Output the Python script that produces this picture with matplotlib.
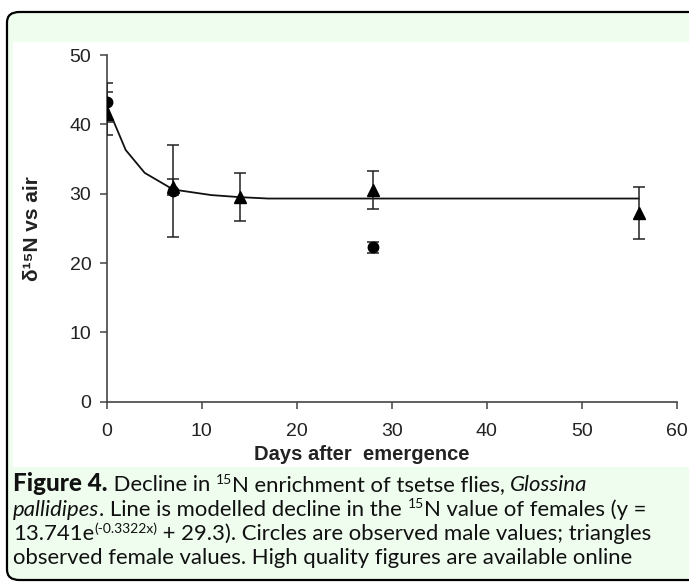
import matplotlib
matplotlib.use("Agg")
import matplotlib.pyplot as plt
from matplotlib.font_manager import FontProperties
from matplotlib.patches import FancyBboxPatch, Rectangle

# Data
male_days = [0, 7, 28]
male_d15n = [43.2, 30.4, 22.3]
male_err_low = [2.8, 6.7, 0.8]
male_err_high = [1.4, 6.6, 0.8]

female_days = [0, 7, 14, 28, 56]
female_d15n = [41.5, 30.9, 29.5, 30.5, 27.2]
female_err_low = [3.1, 1.1, 3.4, 2.7, 3.7]
female_err_high = [4.4, 1.2, 3.5, 2.7, 3.7]

# modelled female decline
model_days = [0, 2, 4, 7, 11, 14, 17, 28, 56]
model_d15n = [42.8, 36.3, 33.0, 30.6, 29.8, 29.5, 29.3, 29.3, 29.3]

x_ticks = [0, 10, 20, 30, 40, 50, 60]
y_ticks = [0, 10, 20, 30, 40, 50]

# caption runs: (text, style) -- b bold, i italic, n normal, s superscript
caption = [
    [("Figure 4.", "b"), (" Decline in ", "n"), ("15", "s"),
     ("N enrichment of tsetse flies, ", "n"), ("Glossina", "i")],
    [("pallidipes", "i"), (". Line is modelled decline in the ", "n"), ("15", "s"),
     ("N value of females (y =", "n")],
    [("13.741e", "n"), ("(-0.3322x)", "s"),
     (" + 29.3). Circles are observed male values; triangles", "n")],
    [("observed female values. High quality figures are available online", "n")],
]
cap_base = [491, 515.5, 540, 564.5]

W, H = 689, 582
fig = plt.figure(figsize=(W / 100, H / 100), dpi=100)
fig.patch.set_facecolor("white")

green = "#effdef"
# outer rounded box (runs off the right edge)
box = FancyBboxPatch((7 / W, 2 / H), 720 / W, 568 / H,
                     boxstyle="round,pad=0,rounding_size=0.018",
                     transform=fig.transFigure, facecolor=green,
                     edgecolor="black", linewidth=1.6, zorder=-2)
fig.patches.append(box)
# white panel holding the chart
panel = Rectangle((13 / W, (H - 467) / H), (W - 13) / W, (467 - 42) / H,
                  transform=fig.transFigure, facecolor="white",
                  edgecolor="none", zorder=-1)
fig.patches.append(panel)

ax = fig.add_axes([106.7 / W, (H - 401.7) / H, 570 / W, 346.7 / H])
ax.set_facecolor("none")
ax.set_zorder(1)

ax.plot(model_days, model_d15n, color="#111111", linewidth=1.3, zorder=2)
ax.errorbar(male_days, male_d15n, yerr=[male_err_low, male_err_high],
            fmt="o", color="black", markersize=7.5, ecolor="#222222",
            elinewidth=1.1, capsize=4.5, capthick=1.1, zorder=3)
ax.errorbar(female_days, female_d15n, yerr=[female_err_low, female_err_high],
            fmt="^", color="black", markersize=8, ecolor="#222222",
            elinewidth=1.1, capsize=4.5, capthick=1.1, zorder=3)

ax.set_xlim(0, 60)
ax.set_ylim(0, 50)
ax.set_xticks(x_ticks)
ax.set_yticks(y_ticks)
for s in ["top", "right"]:
    ax.spines[s].set_visible(False)
for s in ["left", "bottom"]:
    ax.spines[s].set_color("#444444")
    ax.spines[s].set_linewidth(1.2)
ax.tick_params(direction="out", length=5, width=1.1, color="#444444",
               labelsize=14, labelcolor="#222222")
ax.tick_params(axis="x", pad=10)
ax.tick_params(axis="y", pad=6)
for lab in ax.get_xticklabels() + ax.get_yticklabels():
    lab.set_family("Liberation Sans")

ax.set_xlabel("Days after  emergence", fontsize=14.5, fontweight="bold",
              family="Liberation Sans", color="#222222")
ax.xaxis.set_label_coords(0.448, -0.125)
ax.set_ylabel("δ¹⁵N vs air", fontsize=15, fontweight="bold",
              family=["Liberation Sans", "DejaVu Sans"], color="#222222")
ax.yaxis.set_label_coords(-0.113, 0.5)

# caption, drawn run by run so bold / italic / superscript can mix
renderer = fig.canvas.get_renderer()
styles = {
    "n": dict(size=15.9, weight="normal", style="normal", rise=0),
    "b": dict(size=17.5, weight="black", style="normal", rise=0),
    "i": dict(size=15.9, weight="normal", style="italic", rise=0),
    "s": dict(size=10, weight="normal", style="normal", rise=7),
}


def advance(text, prop):
    # width of the run including trailing spaces
    w1 = renderer.get_text_width_height_descent(text + "|", prop, ismath=False)[0]
    w2 = renderer.get_text_width_height_descent("|", prop, ismath=False)[0]
    return w1 - w2


for runs, yb in zip(caption, cap_base):
    x = 13
    for text, kind in runs:
        st = styles[kind]
        prop = FontProperties(family="Lato", size=st["size"],
                              weight=st["weight"], style=st["style"])
        fig.text(x / W, (H - yb + st["rise"]) / H, text, fontproperties=prop,
                 color="#111111", va="baseline", ha="left")
        x += advance(text, prop)

fig.savefig("out.png", dpi=100)
